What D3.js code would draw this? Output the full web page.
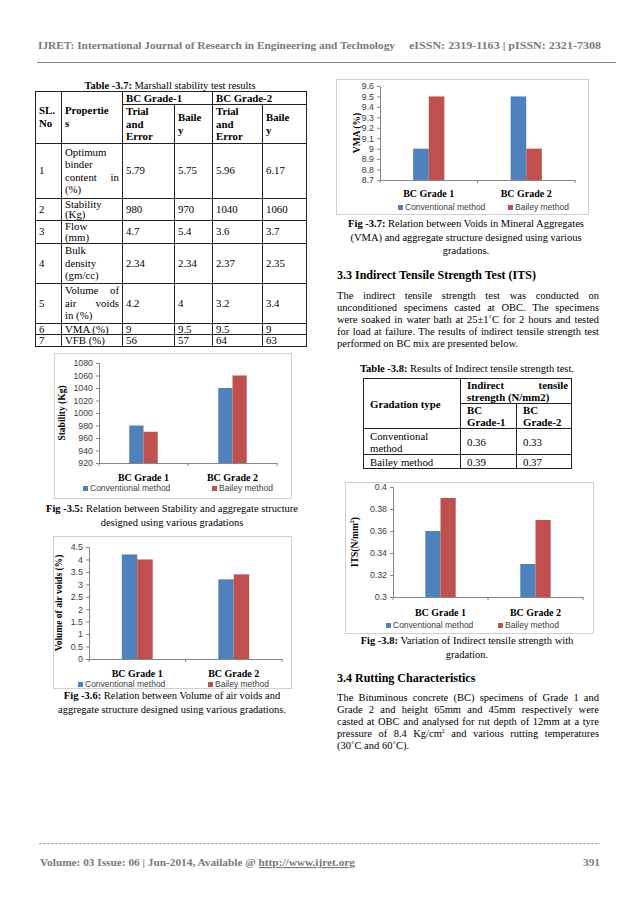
<!DOCTYPE html>
<html>
<head>
<meta charset="utf-8">
<script src="https://cdn.jsdelivr.net/npm/d3@7.9.0/dist/d3.min.js"></script>
<style>
  body { margin: 0; background: #fff; }
  #page { position: relative; width: 638px; height: 903px; overflow: hidden; background: #fff;
          font-family: "Liberation Serif", "Times New Roman", serif; color: #000; }
  #page svg { position: absolute; left: 0; top: 0; }
  .txt { position: absolute; font-size: 10.5px; line-height: 12px; white-space: nowrap; }
  .jl { text-align: justify; text-align-last: justify; }
  .cap { position: absolute; font-size: 10.5px; line-height: 13.5px; text-align: center; white-space: nowrap; }
  .head { position: absolute; font-size: 12px; font-weight: bold; white-space: nowrap; }
  table { position: absolute; border-collapse: collapse; table-layout: fixed; font-size: 10.8px; line-height: 12px; }
  td { border: 1px solid #222; padding: 0 3px; vertical-align: middle; overflow: hidden; white-space: nowrap; }
  td.b { font-weight: bold; }
</style>
</head>
<body>
<div id="page"></div>
<script>
// ---- data ----
const grades = ["BC Grade 1", "BC Grade 2"];
const methods = ["Conventional method", "Bailey method"];

const stabilityConventional = [980, 1040];
const stabilityBailey = [970, 1060];
const stabilityTicks = [920, 940, 960, 980, 1000, 1020, 1040, 1060, 1080];

const airVoidsConventional = [4.2, 3.2];
const airVoidsBailey = [4.0, 3.4];
const airVoidsTicks = [0, 0.5, 1, 1.5, 2, 2.5, 3, 3.5, 4, 4.5];

const vmaConventional = [9.0, 9.5];
const vmaBailey = [9.5, 9.0];
const vmaTicks = [8.7, 8.8, 8.9, 9.0, 9.1, 9.2, 9.3, 9.4, 9.5, 9.6];

const itsConventional = [0.36, 0.33];
const itsBailey = [0.39, 0.37];
const itsTicks = [0.3, 0.32, 0.34, 0.36, 0.38, 0.4];

// table 3.7
const marshallProps = [["Optimum", "binder", "content in", "(%)"], ["Stability", "(Kg)"], ["Flow", "(mm)"],
  ["Bulk", "density", "(gm/cc)"], ["Volume of", "air voids", "in (%)"], ["VMA (%)"], ["VFB (%)"]];
const marshallTrialG1 = ["5.79", "980", "4.7", "2.34", "4.2", "9", "56"];
const marshallBaileyG1 = ["5.75", "970", "5.4", "2.34", "4", "9.5", "57"];
const marshallTrialG2 = ["5.96", "1040", "3.6", "2.37", "3.2", "9.5", "64"];
const marshallBaileyG2 = ["6.17", "1060", "3.7", "2.35", "3.4", "9", "63"];

// table 3.8
const itsTableRows = [["Conventional", "method"], ["Bailey method"]];
const itsTableG1 = ["0.36", "0.39"];
const itsTableG2 = ["0.33", "0.37"];

const para33 = [
  "The indirect tensile strength test was conducted on",
  "unconditioned specimens casted at OBC. The specimens",
  "were soaked in water bath at 25±1˚C for 2 hours and tested",
  "for load at failure. The results of indirect tensile strength test",
  "performed on BC mix are presented below."
];
const para34 = [
  "The Bituminous concrete (BC) specimens of Grade 1 and",
  "Grade 2 and height 65mm and 45mm respectively were",
  "casted at OBC and analysed for rut depth of 12mm at a tyre",
  "pressure of 8.4 Kg/cm<sup style='font-size:6px;line-height:0'>2</sup> and various rutting temperatures",
  "(30˚C and 60˚C)."
];

const colors = ["#4F81BD", "#C0504D"];

const page = d3.select("#page");
const svg = page.append("svg").attr("width", 638).attr("height", 903);

// header / footer
function greyText(x, y, anchor, len, s) {
  return svg.append("text").attr("x", x).attr("y", y).attr("text-anchor", anchor)
    .attr("font-size", 11.3).attr("font-weight", "bold").attr("fill", "#7a7a7a")
    .attr("textLength", len).attr("lengthAdjust", "spacingAndGlyphs").text(s);
}
greyText(38, 49, "start", 357, "IJRET: International Journal of Research in Engineering and Technology");
greyText(409, 49, "start", 192, "eISSN: 2319-1163 | pISSN: 2321-7308");
svg.append("line").attr("x1", 37).attr("x2", 616).attr("y1", 62.5).attr("y2", 62.5)
  .attr("stroke", "#888").attr("stroke-width", 1);

svg.append("line").attr("x1", 39).attr("x2", 600).attr("y1", 843.5).attr("y2", 843.5)
  .attr("stroke", "#999").attr("stroke-width", 0.8).attr("stroke-dasharray", "3 1");
const foot = svg.append("text").attr("x", 40).attr("y", 866)
  .attr("font-size", 11.3).attr("font-weight", "bold").attr("fill", "#7a7a7a");
foot.append("tspan").text("Volume: 03 Issue: 06 | Jun-2014, Available @ ");
foot.append("tspan").attr("text-decoration", "underline").text("http://www.ijret.org");
svg.append("text").attr("x", 600).attr("y", 866).attr("text-anchor", "end")
  .attr("font-size", 11.3).attr("font-weight", "bold").attr("fill", "#7a7a7a").text("391");

// ---- bar charts ----
function barChart(cfg) {
  const g = svg.append("g");
  const [fx0, fy0, fx1, fy1] = cfg.frame;
  g.append("rect").attr("x", fx0 + 0.5).attr("y", fy0 + 0.5)
    .attr("width", fx1 - fx0).attr("height", fy1 - fy0)
    .attr("fill", "#fff").attr("stroke", "#d0d0d0");

  const x = d3.scaleBand().domain(grades).range([cfg.x0, cfg.x1]);
  const xm = d3.scaleBand().domain(methods)
    .range([x.bandwidth() * 0.34, x.bandwidth() * 0.66]);
  const y = d3.scaleLinear().domain(d3.extent(cfg.ticks)).range([cfg.y1, cfg.y0]);

  const rows = grades.map((gr, i) => ({ grade: gr, values: [cfg.conv[i], cfg.bailey[i]] }));
  g.selectAll("g.grp").data(rows).join("g").attr("class", "grp")
    .attr("transform", d => `translate(${x(d.grade)},0)`)
    .selectAll("rect").data(d => d.values.map((v, j) => ({ m: methods[j], v, j })))
    .join("rect")
    .attr("x", d => xm(d.m)).attr("width", xm.bandwidth())
    .attr("y", d => y(d.v)).attr("height", d => y.range()[0] - y(d.v))
    .attr("fill", d => colors[d.j]);

  const fmt = d => String(+d.toFixed(2));
  const ya = g.append("g").attr("transform", `translate(${cfg.x0},0)`)
    .call(d3.axisLeft(y).tickValues(cfg.ticks).tickSize(3).tickPadding(3).tickFormat(fmt));
  ya.select(".domain").attr("stroke", "#868686");
  ya.selectAll(".tick line").attr("stroke", "#868686");
  ya.selectAll(".tick text").attr("fill", "#404040")
    .attr("font-family", "Liberation Sans, Arial, sans-serif").attr("font-size", 8.8);

  const xa = g.append("g").attr("transform", `translate(0,${cfg.y1})`)
    .call(d3.axisBottom(x).tickSize(0).tickFormat(""));
  xa.select(".domain").attr("stroke", "#868686");
  const bounds = [cfg.x0, ...grades.map(d => x(d) + x.bandwidth())];
  xa.selectAll("line.bt").data(bounds).join("line").attr("class", "bt")
    .attr("x1", d => d).attr("x2", d => d).attr("y1", 0).attr("y2", 3).attr("stroke", "#868686");

  g.selectAll("text.cat").data(grades).join("text").attr("class", "cat")
    .attr("x", d => x(d) + x.bandwidth() / 2).attr("y", cfg.catY)
    .attr("text-anchor", "middle").attr("font-size", 10).attr("font-weight", "bold").text(d => d);

  const yl = g.append("text")
    .attr("transform", `translate(${cfg.yLabelX},${(cfg.y0 + cfg.y1) / 2}) rotate(-90)`)
    .attr("text-anchor", "middle").attr("font-size", 9.5).attr("font-weight", "bold");
  yl.append("tspan").text(cfg.yLabel);
  if (cfg.sup) {
    yl.append("tspan").attr("font-size", 6).attr("dy", -4).text(cfg.sup);
    yl.append("tspan").attr("dy", 4).text(")");
  }

  const leg = g.selectAll("g.leg").data(methods).join("g").attr("class", "leg")
    .attr("transform", (d, i) => `translate(${cfg.legendX[i]},${cfg.legendY})`);
  leg.append("rect").attr("x", 0).attr("y", -5).attr("width", 5).attr("height", 5)
    .attr("fill", (d, i) => colors[i]);
  leg.append("text").attr("x", 7).attr("y", 0)
    .attr("font-family", "Liberation Sans, Arial, sans-serif").attr("font-size", 8.5)
    .attr("fill", "#404040").text(d => d);
}

barChart({ frame: [54, 353, 291, 498], x0: 99, x1: 277, y0: 363, y1: 463,
  conv: stabilityConventional, bailey: stabilityBailey, ticks: stabilityTicks,
  yLabel: "Stability (Kg)", yLabelX: 65, catY: 481, legendY: 491, legendX: [83, 212] });

barChart({ frame: [53, 536, 291, 688], x0: 89, x1: 282, y0: 547, y1: 659,
  conv: airVoidsConventional, bailey: airVoidsBailey, ticks: airVoidsTicks,
  yLabel: "Volume of air voids (%)", yLabelX: 62, catY: 677, legendY: 687, legendX: [78, 208] });

barChart({ frame: [336, 79, 588, 214], x0: 380, x1: 575, y0: 86, y1: 180,
  conv: vmaConventional, bailey: vmaBailey, ticks: vmaTicks,
  yLabel: "VMA (%)", yLabelX: 360, catY: 197, legendY: 210, legendX: [398, 508] });

barChart({ frame: [345, 482, 593, 633], x0: 393, x1: 583, y0: 487, y1: 597,
  conv: itsConventional, bailey: itsBailey, ticks: itsTicks,
  yLabel: "ITS(N/mm", sup: "2", yLabelX: 358, catY: 616, legendY: 628, legendX: [386, 498] });

// ---- captions / titles ----
function caption(cx, top, bold, lines) {
  page.append("div").attr("class", "cap")
    .style("left", (cx - 170) + "px").style("width", "340px").style("top", top + "px")
    .html(`<b>${bold}</b>` + lines.join("<br>"));
}
caption(170, 79, "Table -3.7:", [" Marshall stability test results"]);
caption(172, 502, "Fig -3.5:", [" Relation between Stability and aggregate structure", "designed using various gradations"]);
caption(172, 689, "Fig -3.6:", [" Relation between Volume of air voids and", "aggregate structure designed using various gradations."]);
caption(466, 217, "Fig -3.7:", [" Relation between Voids in Mineral Aggregates", "(VMA) and aggregate structure designed using various", "gradations."]);
caption(467, 362, "Table -3.8:", [" Results of Indirect tensile strength test."]);
caption(467, 634, "Fig -3.8:", [" Variation of Indirect tensile strength with", "gradation."]);

page.append("div").attr("class", "head").style("left", "337px").style("top", "268px")
  .text("3.3 Indirect Tensile Strength Test (ITS)");
page.append("div").attr("class", "head").style("left", "337px").style("top", "671px")
  .text("3.4 Rutting Characteristics");

function paragraph(left, top, lines) {
  const p = page.append("div").attr("class", "txt")
    .style("left", left + "px").style("top", top + "px").style("width", "262px");
  p.selectAll("div").data(lines).join("div")
    .attr("class", (d, i) => i < lines.length - 1 ? "jl" : null)
    .html(d => d);
}
paragraph(337, 290, para33);
paragraph(337, 692, para34);

// ---- table 3.7 ----
function cellLines(lines) {
  return lines.map((l, i) => `<div class="${i < lines.length - 1 ? "jl" : ""}">${l}</div>`).join("");
}
const t37 = page.append("table").style("left", "35px").style("top", "91px").style("width", "271px");
const cg37 = t37.append("colgroup");
[26, 61, 52, 38, 50, 44].forEach(w => cg37.append("col").style("width", w + "px"));
const h1 = t37.append("tr").style("height", "13px");
h1.append("td").attr("class", "b").attr("rowspan", 2).style("line-height", "13px").html("SL.<br>No");
h1.append("td").attr("class", "b").attr("rowspan", 2).style("line-height", "13px").html("Propertie<br>s");
h1.append("td").attr("class", "b").attr("colspan", 2).text("BC Grade-1");
h1.append("td").attr("class", "b").attr("colspan", 2).text("BC Grade-2");
const h2 = t37.append("tr").style("height", "38px").style("line-height", "12.5px");
["Trial<br>and<br>Error", "Baile<br>y", "Trial<br>and<br>Error", "Baile<br>y"]
  .forEach(s => h2.append("td").attr("class", "b").html(s));
const rowH37 = [55, 22, 22, 40, 40, 11, 11];
const lineH37 = [12.5, 10.8, 10.8, 12.5, 12.5, 10.5, 10.5];
marshallProps.forEach((p, i) => {
  const tr = t37.append("tr").style("height", rowH37[i] + "px").style("line-height", lineH37[i] + "px");
  tr.append("td").text(i + 1);
  tr.append("td").html(cellLines(p));
  [marshallTrialG1, marshallBaileyG1, marshallTrialG2, marshallBaileyG2]
    .forEach(col => tr.append("td").text(col[i]));
});

// ---- table 3.8 ----
const t38 = page.append("table").style("left", "363px").style("top", "378px").style("width", "208px")
  .style("line-height", "12px");
const cg38 = t38.append("colgroup");
[97, 56, 55].forEach(w => cg38.append("col").style("width", w + "px"));
const r1 = t38.append("tr").style("height", "24px");
r1.append("td").attr("class", "b").attr("rowspan", 2).style("padding-left", "6px").text("Gradation type");
r1.append("td").attr("class", "b").attr("colspan", 2).style("padding-left", "6px")
  .html(cellLines(["Indirect tensile", "strength (N/mm2)"]));
const r2 = t38.append("tr").style("height", "25px");
grades.forEach((gr, i) => r2.append("td").attr("class", "b").style("padding-left", "6px").html(`BC<br>Grade-${i + 1}`));
const rowH38 = [26, 14];
itsTableRows.forEach((r, i) => {
  const tr = t38.append("tr").style("height", rowH38[i] + "px");
  tr.append("td").style("padding-left", "6px").html(r.join("<br>"));
  tr.append("td").style("padding-left", "6px").text(itsTableG1[i]);
  tr.append("td").style("padding-left", "6px").text(itsTableG2[i]);
});
</script>
</body>
</html>
